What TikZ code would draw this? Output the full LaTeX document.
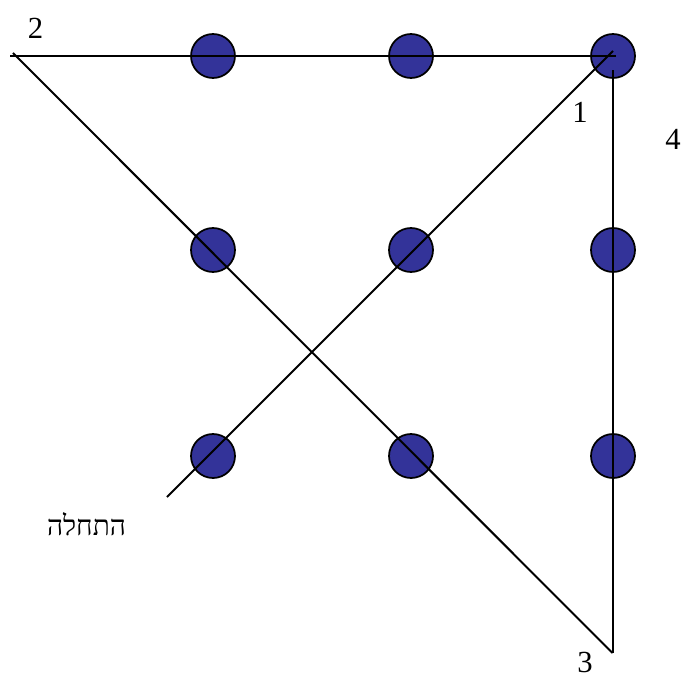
\documentclass[tikz,border=0pt]{standalone}
\usepackage{fontspec}
\setmainfont{Liberation Serif}
\newfontfamily\hebfont[Script=Hebrew]{Liberation Serif}
\TeXXeTstate=1
\definecolor{dotblue}{RGB}{51,51,153}
\tikzset{
  dot/.style={circle, draw=black, line width=1.3pt, fill=dotblue, minimum size=33pt, inner sep=0pt},
  trail/.style={line width=1.5pt},
  lbl/.style={font=\fontsize{23}{27}\selectfont, inner sep=0pt}
}
\begin{document}
\begin{tikzpicture}[x=0.75pt,y=-0.75pt]
	\useasboundingbox (0,0) rectangle (684,677);
	\node[dot] (A1) at (213,56) {};
	\node[dot] (A2) at (411,56) {};
	\node[dot] (A3) at (613,56) {};
	\node[dot] (B1) at (213,250) {};
	\node[dot] (B2) at (411,250) {};
	\node[dot] (B3) at (613,250) {};
	\node[dot] (C1) at (213,456) {};
	\node[dot] (C2) at (411,456) {};
	\node[dot] (C3) at (613,456) {};
	\coordinate (S) at (167,497);
	\coordinate (P1) at (613,51);
	\coordinate (Q1) at (616,56);
	\coordinate (P2) at (10,56);
	\coordinate (Q2) at (13,53);
	\coordinate (P3) at (612.5,653);
	\coordinate (P4) at (612.5,70);
	\draw[trail] (S) -- (P1);
	\draw[trail] (Q1) -- (P2);
	\draw[trail] (Q2) -- (P3);
	\draw[trail] (P3) -- (P4);
	\node[lbl] (n2) at (35.5,28) {2};
	\node[lbl] (n1) at (580,112) {1};
	\node[lbl] (n4) at (673,139) {4};
	\node[lbl] (n3) at (585,662) {3};
	\node[lbl, font=\fontsize{21}{25}\selectfont] (start) at (86.5,524) {\hebfont\beginR התחלה\endR};
\end{tikzpicture}
\end{document}
